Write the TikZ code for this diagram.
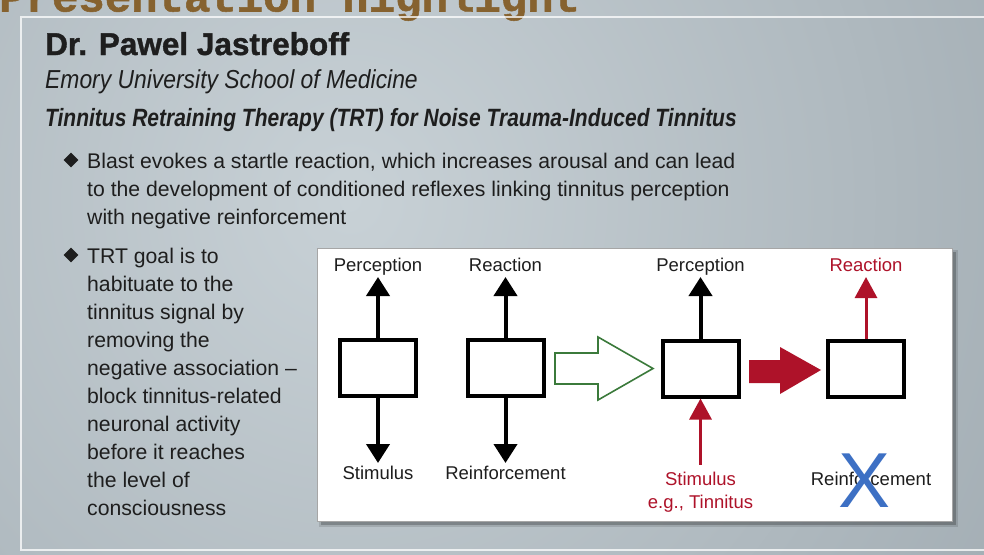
\documentclass[tikz,border=0pt]{standalone}
\usepackage{fontspec}
\setmainfont{Liberation Sans}
\newfontfamily\titlemono[FakeBold=1.2]{Liberation Mono Bold}
\newfontfamily\heavysans[FakeBold=1.2]{Liberation Sans Bold}
\newfontfamily\narrowA[FakeStretch=0.88]{Liberation Sans}
\newfontfamily\narrowB[FakeStretch=0.84]{Liberation Sans}
\usetikzlibrary{arrows.meta,shapes.geometric,calc}
\definecolor{bglight}{HTML}{C8D1D6}
\definecolor{bgdark}{HTML}{95A0A7}
\definecolor{titlebrown}{HTML}{86622F}
\definecolor{textdark}{HTML}{1E1E1E}
\definecolor{myred}{HTML}{AE1229}
\definecolor{myblue}{HTML}{3D70C4}
\definecolor{mygreen}{HTML}{3B7A3B}
\begin{document}
\begin{tikzpicture}[x=1pt,y=-1pt,
  hdr/.style={anchor=base west, inner sep=0pt, text=textdark},
  bul/.style={anchor=base west, inner sep=0pt, text=textdark, font=\fontsize{21.2}{28}\selectfont},
  bulmark/.style={diamond, fill=textdark, inner sep=0pt, minimum size=15pt},
  blk/.style={draw=black, line width=4pt, fill=white, minimum width=76pt, minimum height=56pt, inner sep=0pt},
  lbl/.style={anchor=base, inner sep=0pt, font=\fontsize{18.5}{18.5}\selectfont, text=textdark},
  rlbl/.style={lbl, text=myred},
  uparr/.style={draw=black, line width=4pt, -{Triangle[width=23pt,length=19pt]}},
  redarr/.style={draw=myred, color=myred, line width=3pt, -{Triangle[width=22pt,length=21pt]}}
]
\useasboundingbox (0,0) rectangle (984,554);
\begin{scope}
  \clip (0,0) rectangle (984,554);
  \shade[inner color=bglight, outer color=bgdark] (-700,-900) rectangle (1400,1300);
  \node[anchor=base west, inner sep=0pt, text=titlebrown, font=\titlemono\fontsize{44}{44}\selectfont] (title) at (-1,11.5) {Presentation Highlight};
  \draw[white, opacity=0.75, line width=2pt] (21,17) rectangle (1010,550);
\end{scope}

% header
\node[hdr, font=\heavysans\fontsize{31.5}{31.5}\selectfont] (name) at (45,55) {Dr. Pawel Jastreboff};
\node[hdr, font=\narrowA\itshape\fontsize{26}{26}\selectfont] (affil) at (45,88) {Emory University School of Medicine};
\node[hdr, font=\narrowB\bfseries\itshape\fontsize{25}{25}\selectfont] (topic) at (45,126) {Tinnitus Retraining Therapy (TRT) for Noise Trauma-Induced Tinnitus};

% bullet 1
\node[bulmark] (m1) at (71,160) {};
\node[bul] (b1a) at (87,168) {Blast evokes a startle reaction, which increases arousal and can lead};
\node[bul] (b1b) at (87,196) {to the development of conditioned reflexes linking tinnitus perception};
\node[bul] (b1c) at (87,224) {with negative reinforcement};

% bullet 2
\node[bulmark] (m2) at (71,255) {};
\node[bul] (b2a) at (87,263) {TRT goal is to};
\node[bul] (b2b) at (87,291) {habituate to the};
\node[bul] (b2c) at (87,319) {tinnitus signal by};
\node[bul] (b2d) at (87,347) {removing the};
\node[bul] (b2e) at (87,375) {negative association --};
\node[bul] (b2f) at (87,403) {block tinnitus-related};
\node[bul] (b2g) at (87,431) {neuronal activity};
\node[bul] (b2h) at (87,459) {before it reaches};
\node[bul] (b2i) at (87,487) {the level of};
\node[bul] (b2j) at (87,515) {consciousness};

% white diagram panel
\fill[black, opacity=0.22] (321,252) rectangle (956,525);
\fill[black, opacity=0.12] (319,250) rectangle (958,527);
\draw[gray!70, fill=white, line width=1pt] (317,248) rectangle (952,521);

% boxes
\node[blk] (bx1) at (378,368) {};
\node[blk] (bx2) at (505.5,368) {};
\node[blk] (bx3) at (700.5,368.5) {};
\node[blk] (bx4) at (866,368.5) {};

% labels
\node[lbl] (p1) at (378,271.5) {Perception};
\node[lbl] (r2) at (505.5,271.5) {Reaction};
\node[lbl] (s1) at (378,479.5) {Stimulus};
\node[lbl] (f2) at (505.5,479.5) {Reinforcement};
\node[lbl] (p3) at (700.5,271.5) {Perception};
\node[rlbl] (s3) at (700.5,485.5) {Stimulus};
\node[rlbl] (e3) at (700.5,508.5) {e.g., Tinnitus};
\node[rlbl] (r4) at (866,271.5) {Reaction};
\node[lbl] (f4) at (871,485.5) {Reinforcement};
\node[anchor=base, inner sep=0pt, text=myblue, font=\fontsize{78}{78}\selectfont] (xx) at (864,507.5) {X};

% arrows
\draw[uparr] (bx1.north) -- ++(0,-61);
\draw[uparr] (bx2.north) -- ++(0,-61);
\draw[uparr] (bx1.south) -- ++(0,65);
\draw[uparr] (bx2.south) -- ++(0,65);
\draw[uparr] (bx3.north) -- ++(0,-61.5);
\draw[redarr, shorten <=7pt] (s3.north) -- (bx3.south);
\draw[redarr] (bx4.north) -- ++(0,-61.5);

% hollow green arrow
\draw[mygreen, line width=1.6pt, fill=white, line join=miter]
  (555,353) -- (598,353) -- (598,337) -- (653,368.5) -- (598,400) -- (598,384) -- (555,384) -- cycle;
% solid red arrow
\fill[myred]
  (749,360) -- (780,360) -- (780,347) -- (821,370) -- (780,394) -- (780,383) -- (749,383) -- cycle;
\end{tikzpicture}
\end{document}
